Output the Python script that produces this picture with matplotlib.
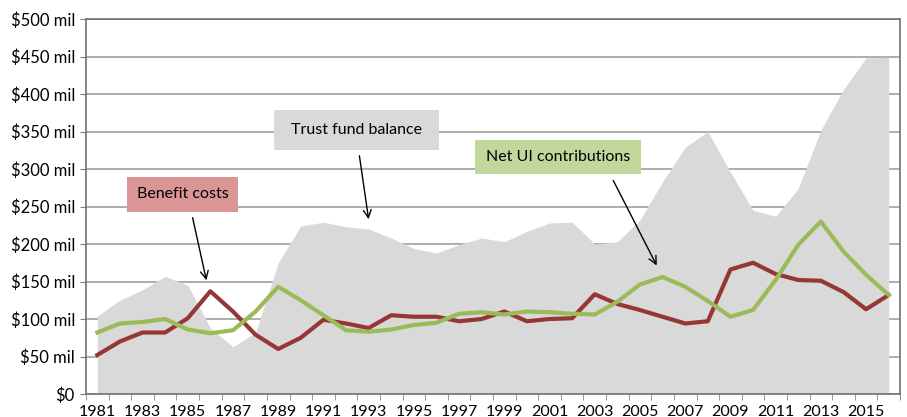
import matplotlib
matplotlib.use("Agg")
import matplotlib.pyplot as plt
from matplotlib.patches import Rectangle
import numpy as np

# data ($ millions)
years = list(range(1981, 2017))
trust_fund = [104, 125, 139, 157, 145, 88, 63, 82, 175, 224,
              229, 223, 220, 208, 194, 188, 199, 208, 203, 217,
              228, 229, 200, 203, 232, 283, 329, 350, 296, 245,
              237, 274, 352, 406, 448, 449]
benefit_costs = [52, 70, 82, 82, 101, 137, 110, 79, 60, 75,
                 99, 94, 88, 105, 103, 103, 97, 100, 110, 97,
                 100, 101, 133, 120, 112, 103, 94, 97, 166, 175,
                 160, 152, 151, 136, 113, 132]
net_ui = [82, 94, 96, 100, 86, 81, 85, 110, 143, 125,
          105, 85, 83, 86, 92, 95, 107, 109, 106, 110,
          109, 107, 106, 123, 146, 156, 143, 124, 103, 112,
          152, 199, 230, 190, 159, 132]
yticks = list(range(0, 501, 50))
ylabels = ["$0"] + ["$%i mil" % v for v in yticks[1:]]

plt.rcParams['font.family'] = ['Lato', 'DejaVu Sans']

W, H = 907, 417
fig = plt.figure(figsize=(W/100, H/100), dpi=100)
ax = fig.add_axes([86/W, 23/H, 814/W, 375/H])

ax.fill_between(years, 0, trust_fund, color="#d9d9d9", lw=0, zorder=1)
ax.plot(years, benefit_costs, color="#953735", lw=3, zorder=3)
ax.plot(years, net_ui, color="#9bbb59", lw=3, zorder=3)

ax.set_xlim(1980.5, 2016.5)
ax.set_ylim(0, 500)
ax.set_yticks(yticks)
ax.set_yticklabels(ylabels, fontsize=12)
ax.yaxis.grid(True, color="#a0a0a0", lw=1.2, zorder=0)
ax.set_axisbelow(True)

ax.set_xticks(years[::2])
ax.set_xticklabels([str(y) for y in years[::2]], fontsize=11.5)
ax.set_xticks(np.arange(1980.5, 2017, 1), minor=True)
ax.tick_params(axis="x", which="major", length=0, pad=8)
ax.tick_params(axis="x", which="minor", length=4, color="#808080")
ax.tick_params(axis="y", length=4, color="#808080", pad=4)
for s in ax.spines.values():
    s.set_color("#707070")
    s.set_linewidth(1.2)

def label(txt, box, color, arrow_from, arrow_to):
    # box = (left, top, right, bottom) in image pixels from top-left
    l, t, r, b = box
    fig.patches.append(Rectangle((l, H - b), r - l, b - t, transform=None,
                                 fc=color, ec="none", zorder=5))
    fig.text((l + r) / 2 / W, 1 - (t + b) / 2 / H, txt, fontsize=11.5,
             ha="center", va="center", zorder=6)
    ax.annotate("", xy=(arrow_to[0], H - arrow_to[1]), xycoords="figure pixels",
                xytext=(arrow_from[0], H - arrow_from[1]), textcoords="figure pixels",
                arrowprops=dict(arrowstyle="->", color="black", lw=1,
                                mutation_scale=14), zorder=5)

label("Trust fund balance", (274, 110, 439, 150), "#d9d9d9", (359, 153), (369, 222))
label("Benefit costs", (127, 177, 238, 212), "#da9694", (192, 215), (207, 283))
label("Net UI contributions", (475, 140, 641, 174), "#c3d69b", (612, 178), (658, 268))

fig.savefig("out.png", dpi=100)
